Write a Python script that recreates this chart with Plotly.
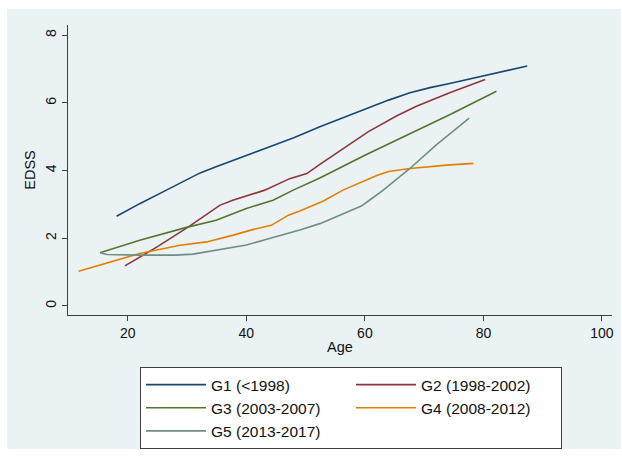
import plotly.graph_objects as go

# ---- data ----
g1_age = [18.1, 22, 26.5, 30, 32.2, 35, 37.8, 41, 44, 48, 52.4, 56.5, 60.8, 64, 67.6, 71, 74.3, 78, 81.1, 87.4]
g1_edss = [2.65, 3.02, 3.42, 3.74, 3.93, 4.12, 4.30, 4.52, 4.72, 4.97, 5.29, 5.57, 5.86, 6.08, 6.30, 6.45, 6.57, 6.72, 6.84, 7.09]

g2_age = [19.5, 25, 30.1, 35.5, 37.7, 43.1, 47.3, 50.2, 52.4, 55.2, 60.6, 65.4, 68.7, 74.3, 80.3]
g2_edss = [1.18, 1.75, 2.32, 2.97, 3.12, 3.42, 3.76, 3.91, 4.18, 4.52, 5.15, 5.62, 5.9, 6.3, 6.69]

g3_age = [15.3, 22, 29.9, 34.9, 40, 44.5, 47.9, 52.4, 60, 67.6, 74.3, 82.2]
g3_edss = [1.57, 1.94, 2.32, 2.53, 2.88, 3.12, 3.42, 3.78, 4.45, 5.08, 5.65, 6.34]

g4_age = [11.7, 22, 28.8, 33.3, 37.8, 41.2, 44.2, 47.1, 49, 53, 56.3, 62.1, 64, 67.6, 73.8, 78.3]
g4_edss = [1.02, 1.55, 1.79, 1.89, 2.09, 2.26, 2.38, 2.68, 2.8, 3.1, 3.42, 3.86, 3.97, 4.06, 4.16, 4.21]

g5_age = [15.3, 16.5, 22, 28, 31, 40, 44.5, 49, 52.4, 55.2, 59.4, 61, 63.1, 67.6, 72, 77.6]
g5_edss = [1.57, 1.52, 1.5, 1.5, 1.53, 1.8, 2.02, 2.24, 2.43, 2.63, 2.95, 3.15, 3.42, 4.06, 4.75, 5.55]

names = ["G1 (<1998)", "G2 (1998-2002)", "G3 (2003-2007)", "G4 (2008-2012)", "G5 (2013-2017)"]
colors = ["#1a476f", "#90353b", "#55752f", "#e37e00", "#6e8e84"]

x_ticks = [20, 40, 60, 80, 100]
y_ticks = [0, 2, 4, 6, 8]

series = [(g1_age, g1_edss), (g2_age, g2_edss), (g3_age, g3_edss), (g4_age, g4_edss), (g5_age, g5_edss)]

fig = go.Figure()
for (xs, ys), nm, c in zip(series, names, colors):
    fig.add_trace(go.Scatter(x=xs, y=ys, mode="lines", name=nm,
                             line=dict(color=c, width=1.6)))

BG = "#eaf2f3"
W, H = 622, 457
L, R, T, B = 68, 10, 25, 142
pw, ph = W - L - R, H - T - B

def px_x(p):
    return (p - L) / pw

def px_y(p):
    return (H - B - p) / ph

fig.add_shape(type="rect", xref="paper", yref="paper", layer="below",
              x0=px_x(7), x1=px_x(621), y0=px_y(449), y1=px_y(9),
              fillcolor=BG, line=dict(width=0))

fig.update_layout(
    width=W, height=H,
    margin=dict(l=L, r=R, t=T, b=B, autoexpand=False),
    paper_bgcolor="white",
    plot_bgcolor="white",
    font=dict(family="Liberation Sans, Arial, sans-serif", size=14, color="#111111"),
    xaxis=dict(range=[9.9, 101.7], tickvals=x_ticks, ticks="outside", ticklen=5,
               tickcolor="#404040", showline=True, linecolor="#404040", linewidth=1,
               showgrid=False, zeroline=False, automargin=False,
               title=dict(text="Age", standoff=2, font=dict(size=14.5))),
    yaxis=dict(range=[-0.27, 8.3], tickvals=y_ticks, ticks="outside", ticklen=5,
               tickangle=-90, automargin=False,
               tickcolor="#404040", showline=True, linecolor="#404040", linewidth=1,
               showgrid=True, gridcolor=BG, gridwidth=1, zeroline=False,
               title=dict(text="EDSS", standoff=4, font=dict(size=14.5))),
    legend=dict(orientation="h", x=px_x(140), y=px_y(367), xanchor="left", yanchor="top",
                bgcolor="white", bordercolor="#404040", borderwidth=1,
                font=dict(size=15.5), entrywidth=135, itemwidth=60,
                traceorder="normal"),
    showlegend=True,
)

fig.write_html("out.html", config={"displayModeBar": False},
               post_script="document.body.style.margin='0';")
